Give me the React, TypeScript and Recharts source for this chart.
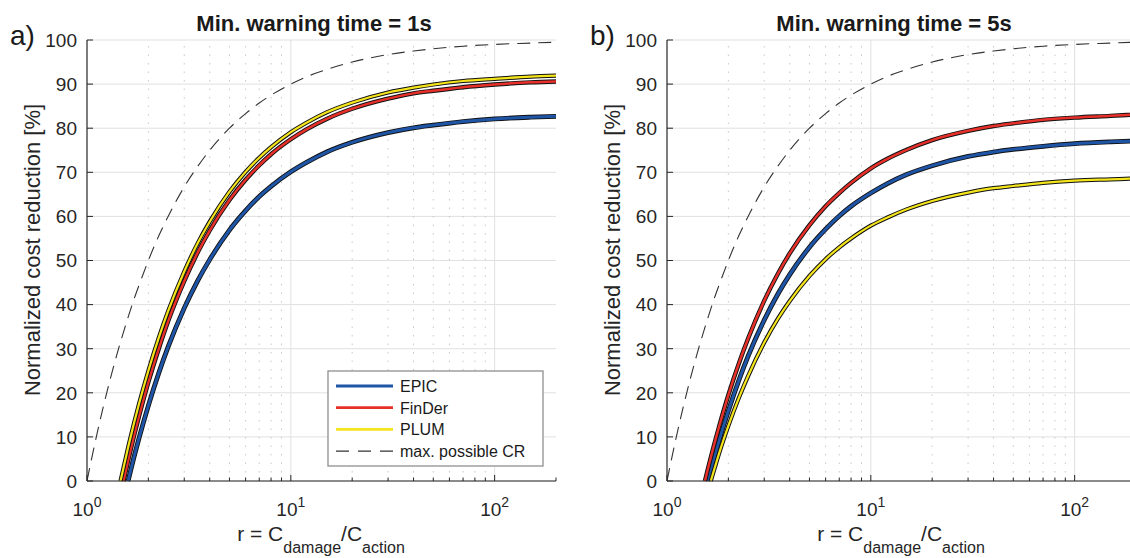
import React from 'react';
import { LineChart, Line, XAxis, YAxis, CartesianGrid, ReferenceLine } from 'recharts';

// r = C_damage / C_action sample points shared by the model curves
const rGrid = [1.6, 1.7, 1.8, 2, 2.25, 2.5, 3, 3.5, 4, 5, 6, 7, 8, 10, 12, 15, 20, 30, 40, 50, 70, 100, 150, 200];

// panel a) min. warning time = 1s
const epicA = [0.5, 5.4, 9.7, 17.1, 24.5, 30.4, 39.2, 45.5, 50.2, 56.9, 61.3, 64.5, 66.8, 70.1, 72.3, 74.6, 76.8, 79.0, 80.1, 80.7, 81.5, 82.1, 82.5, 82.7];
const finderA = [5.1, 10.2, 14.7, 22.4, 30.0, 36.2, 45.3, 51.9, 56.8, 63.7, 68.3, 71.6, 74.1, 77.5, 79.8, 82.1, 84.4, 86.7, 87.9, 88.5, 89.3, 89.9, 90.4, 90.6];
const plumA = [8.1, 13.1, 17.5, 25.0, 32.5, 38.5, 47.5, 54.0, 58.8, 65.6, 70.1, 73.3, 75.7, 79.1, 81.3, 83.6, 85.8, 88.1, 89.2, 89.9, 90.7, 91.2, 91.7, 91.9];
const startA = { epic: 1.59, finder: 1.51, plum: 1.46 };

// panel b) min. warning time = 5s
const epicB = [0.5, 5.0, 9.1, 15.9, 22.8, 28.3, 36.5, 42.4, 46.8, 53.0, 57.1, 60.1, 62.3, 65.3, 67.4, 69.5, 71.5, 73.6, 74.6, 75.2, 75.9, 76.5, 76.9, 77.1];
const finderB = [3.4, 8.1, 12.3, 19.5, 26.6, 32.3, 40.9, 47.0, 51.6, 58.0, 62.3, 65.3, 67.6, 70.9, 73.0, 75.1, 77.3, 79.4, 80.5, 81.1, 81.9, 82.4, 82.8, 83.1];
const plumB = [null, 2.4, 6.2, 12.5, 18.8, 23.8, 31.4, 36.8, 40.8, 46.5, 50.3, 53.0, 55.0, 57.9, 59.7, 61.6, 63.5, 65.4, 66.4, 66.9, 67.6, 68.1, 68.4, 68.6];
const startB = { epic: 1.59, finder: 1.535, plum: 1.64 };

// max. possible CR
const rMax = [1, 1.1, 1.2, 1.3, 1.4, 1.5, 1.6, 1.7, 1.8, 2, 2.25, 2.5, 3, 3.5, 4, 5, 6, 7, 8, 10, 12, 15, 20, 30, 40, 50, 70, 100, 150, 200];
const maxCR = [0, 9.1, 16.7, 23.1, 28.6, 33.3, 37.5, 41.2, 44.4, 50, 55.6, 60, 66.7, 71.4, 75, 80, 83.3, 85.7, 87.5, 90, 91.7, 93.3, 95, 96.7, 97.5, 98, 98.6, 99, 99.3, 99.5];

const yTicks = [0, 10, 20, 30, 40, 50, 60, 70, 80, 90, 100];
const xTicks = [1, 2, 3, 4, 5, 6, 7, 8, 9, 10, 20, 30, 40, 50, 60, 70, 80, 90, 100, 200];
const xMajor = [1, 10, 100];
const minorGrid = [2, 3, 4, 5, 6, 7, 8, 9, 20, 30, 40, 50, 60, 70, 80, 90];
const legendNames = ['EPIC', 'FinDer', 'PLUM', 'max. possible CR'];

const FONT = '"Liberation Sans", Arial, sans-serif';
const AXIS = '#262626';
const BLUE = '#1f55a6';
const RED = '#e8302a';
const YELLOW = '#f4e41c';

type Pt = { r: number; v: number };

const toPoints = (start: number, vals: (number | null)[]): Pt[] => [
  { r: start, v: 0 },
  ...rGrid
    .map((r, i) => ({ r, v: vals[i] }))
    .filter((p) => p.v !== null && p.r > start)
    .map((p) => ({ r: p.r, v: p.v as number })),
];

const maxPts: Pt[] = rMax.map((r, i) => ({ r, v: maxCR[i] }));

const XTickBottom = (props: any) => {
  const { x, y, payload } = props;
  const major = xMajor.includes(payload.value);
  const exp = Math.round(Math.log10(payload.value));
  return (
    <g>
      <line x1={x} x2={x} y1={y} y2={y - (major ? 6 : 3.5)} stroke={AXIS} strokeWidth={1} />
      {major && (
        <text x={x} y={y + 35} textAnchor="middle" fontSize={19} fill={AXIS} fontFamily={FONT}>
          10
          <tspan dy={-9} fontSize={14}>{exp}</tspan>
        </text>
      )}
    </g>
  );
};

const XTickTop = (props: any) => {
  const { x, y, payload } = props;
  const major = xMajor.includes(payload.value);
  return <line x1={x} x2={x} y1={y} y2={y + (major ? 6 : 3.5)} stroke={AXIS} strokeWidth={1} />;
};

const YTickLeft = (props: any) => {
  const { x, y, payload } = props;
  return (
    <g>
      <line x1={x} x2={x + 6} y1={y} y2={y} stroke={AXIS} strokeWidth={1} />
      <text x={x - 10} y={y} dy="0.36em" textAnchor="end" fontSize={19} fill={AXIS} fontFamily={FONT}>
        {payload.value}
      </text>
    </g>
  );
};

const YTickRight = (props: any) => {
  const { x, y } = props;
  return <line x1={x} x2={x - 6} y1={y} y2={y} stroke={AXIS} strokeWidth={1} />;
};

interface PanelProps {
  letter: string;
  title: string;
  epic: Pt[];
  finder: Pt[];
  plum: Pt[];
  showLegend: boolean;
}

const Panel: React.FC<PanelProps> = ({ letter, title, epic, finder, plum, showLegend }) => {
  const series = [
    { data: epic, color: BLUE, outer: 4.8, inner: 3 },
    { data: finder, color: RED, outer: 4.4, inner: 2.5 },
    { data: plum, color: YELLOW, outer: 4.2, inner: 2.2 },
  ];
  return (
    <div style={{ position: 'relative', width: 580, height: 558 }}>
      <LineChart width={580} height={558} margin={{ top: 40, right: 24, bottom: 47, left: 47 }}>
        <CartesianGrid horizontal vertical={false} stroke="#e0e0e0" strokeWidth={1} />
        {minorGrid.map((g) => (
          <ReferenceLine key={'m' + g} x={g} stroke="#c8c8c8" strokeWidth={1} strokeDasharray="1.5 7" />
        ))}
        <ReferenceLine x={10} stroke="#e0e0e0" strokeWidth={1} />
        <ReferenceLine x={100} stroke="#e0e0e0" strokeWidth={1} />
        <XAxis
          dataKey="r"
          type="number"
          scale="log"
          domain={[1, 200]}
          allowDataOverflow
          ticks={xTicks}
          interval={0}
          height={30}
          tickSize={0}
          tickMargin={0}
          tickLine={false}
          axisLine={{ stroke: AXIS, strokeWidth: 1.2 }}
          tick={XTickBottom}
        />
        <XAxis
          xAxisId="top"
          orientation="top"
          dataKey="r"
          type="number"
          scale="log"
          domain={[1, 200]}
          allowDataOverflow
          ticks={xTicks}
          interval={0}
          height={0}
          tickSize={0}
          tickMargin={0}
          tickLine={false}
          axisLine={{ stroke: AXIS, strokeWidth: 1.2 }}
          tick={XTickTop}
        />
        <YAxis
          type="number"
          domain={[0, 100]}
          ticks={yTicks}
          interval={0}
          width={40}
          tickSize={0}
          tickMargin={0}
          tickLine={false}
          axisLine={{ stroke: AXIS, strokeWidth: 1.2 }}
          tick={YTickLeft}
        />
        <YAxis
          yAxisId="right"
          orientation="right"
          type="number"
          domain={[0, 100]}
          ticks={yTicks}
          interval={0}
          width={0}
          tickSize={0}
          tickMargin={0}
          tickLine={false}
          axisLine={{ stroke: AXIS, strokeWidth: 1.2 }}
          tick={YTickRight}
        />
        <Line
          data={maxPts}
          dataKey="v"
          type="monotone"
          stroke="#333"
          strokeWidth={1.1}
          strokeDasharray="13 8"
          dot={false}
          isAnimationActive={false}
        />
        {series.flatMap((s, i) => [
          <Line
            key={'o' + i}
            data={s.data}
            dataKey="v"
            type="monotone"
            stroke="#111"
            strokeWidth={s.outer}
            dot={false}
            isAnimationActive={false}
          />,
          <Line
            key={'c' + i}
            data={s.data}
            dataKey="v"
            type="monotone"
            stroke={s.color}
            strokeWidth={s.inner}
            dot={false}
            isAnimationActive={false}
          />,
        ])}
      </LineChart>
      <svg
        width={580}
        height={558}
        style={{ position: 'absolute', left: 0, top: 0, pointerEvents: 'none' }}
        fontFamily={FONT}
      >
        <text x={10} y={45} fontSize={28} fill="#1a1a1a">{letter}</text>
        <text x={314} y={31} textAnchor="middle" fontSize={22} fontWeight="bold" fill="#1a1a1a">
          {title}
        </text>
        <text
          x={40}
          y={250}
          transform="rotate(-90 40 250)"
          textAnchor="middle"
          fontSize={22}
          fill={AXIS}
        >
          Normalized cost reduction [%]
        </text>
        <text x={321} y={541} textAnchor="middle" fontSize={21} fill={AXIS}>
          r = C
          <tspan fontSize={16} dy={12}>damage</tspan>
          <tspan fontSize={21} dy={-12}>/C</tspan>
          <tspan fontSize={16} dy={12}>action</tspan>
        </text>
        {showLegend && (
          <g>
            <rect x={328} y={371} width={215} height={95} fill="#fff" stroke="#8f8f8f" strokeWidth={1.3} />
            {legendNames.map((name, i) => {
              const ly = 386 + i * 21.7;
              const colors = [BLUE, RED, YELLOW, '#333'];
              return (
                <g key={name}>
                  <line
                    x1={336}
                    x2={393}
                    y1={ly}
                    y2={ly}
                    stroke={colors[i]}
                    strokeWidth={i === 3 ? 1.1 : 2.8}
                    strokeDasharray={i === 3 ? '13 9' : undefined}
                  />
                  <text x={400} y={ly + 6} fontSize={16} fill="#1a1a1a">{name}</text>
                </g>
              );
            })}
          </g>
        )}
      </svg>
    </div>
  );
};

export default function App() {
  return (
    <div
      style={{
        position: 'fixed',
        left: 0,
        top: 0,
        width: 1130,
        height: 558,
        overflow: 'hidden',
        background: '#fff',
      }}
    >
      <div style={{ position: 'absolute', left: 0, top: 0 }}>
        <Panel
          letter="a)"
          title="Min. warning time = 1s"
          epic={toPoints(startA.epic, epicA)}
          finder={toPoints(startA.finder, finderA)}
          plum={toPoints(startA.plum, plumA)}
          showLegend
        />
      </div>
      <div style={{ position: 'absolute', left: 580, top: 0 }}>
        <Panel
          letter="b)"
          title="Min. warning time = 5s"
          epic={toPoints(startB.epic, epicB)}
          finder={toPoints(startB.finder, finderB)}
          plum={toPoints(startB.plum, plumB)}
          showLegend={false}
        />
      </div>
    </div>
  );
}
